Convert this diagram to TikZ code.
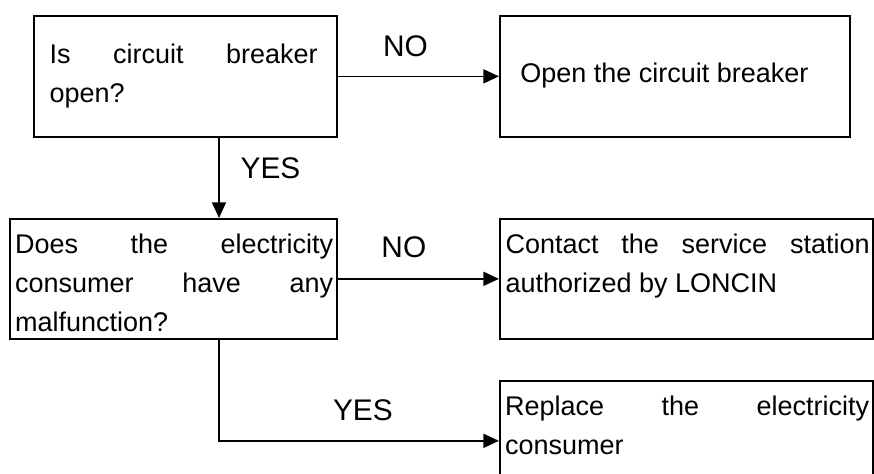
\documentclass[tikz,border=0pt]{standalone}
\usepackage{fontspec}
\setmainfont{Liberation Sans}
\usetikzlibrary{positioning, arrows.meta}
\hyphenpenalty=10000
\hbadness=10000

\begin{document}
\begin{tikzpicture}[
    >={Triangle[length=5.6pt,width=5pt]},
    box/.style={draw, rectangle, line width=0.6pt, anchor=north west, inner sep=0pt},
    boxtext/.style={anchor=base west, inner sep=0pt, align=justify, font=\fontsize{9.6}{14}\selectfont},
    answer/.style={inner sep=0pt, font=\fontsize{10.6}{12}\selectfont},
    link/.style={->, line width=0.6pt}
]

% Page frame
\useasboundingbox (0,0) rectangle (10.925,-5.9125);
\clip (0,0) rectangle (10.925,-5.9125);

% -------------------------
% Questions (left column)
% -------------------------

% 1. Circuit breaker
\node[box, minimum width=3.7875cm, minimum height=1.5125cm] (breaker) at (0.4125,-0.1875) {};
\node[boxtext, text width=3.35cm] (breakertext) at ([shift={(0.2,-0.6)}]breaker.north west)
    {Is circuit breaker\linebreak open?};

% 2. Electricity consumer
\node[box, minimum width=4.0875cm, minimum height=1.5cm] (consumer) at (0.1125,-2.725) {};
\node[boxtext, text width=3.975cm] (consumertext) at ([shift={(0.07,-0.4375)}]consumer.north west)
    {Does the electricity\linebreak consumer have any\linebreak malfunction?};

% -------------------------
% Actions (right column)
% -------------------------

% 3. Open breaker
\node[box, minimum width=4.375cm, minimum height=1.5125cm] (openbrk) at (6.2375,-0.1875) {};
\node[boxtext, text width=4cm] (openbrktext) at ([shift={(0.26,-0.8375)}]openbrk.north west)
    {Open the circuit breaker};

% 4. Service station
\node[box, minimum width=4.6625cm, minimum height=1.5cm] (service) at (6.2375,-2.725) {};
\node[boxtext, text width=4.55cm] (servicetext) at ([shift={(0.075,-0.4375)}]service.north west)
    {Contact the service station\linebreak authorized by LONCIN};

% 5. Replace consumer (runs off the page)
\node[box, minimum width=4.6625cm, minimum height=1.5cm] (replace) at (6.2375,-4.75) {};
\node[boxtext, text width=4.55cm] (replacetext) at ([shift={(0.07,-0.4375)}]replace.north west)
    {Replace the electricity\linebreak consumer};

% -------------------------
% Connections
% -------------------------
\coordinate (trunk) at (2.7375,0);

% breaker -> openbrk
\draw[link] (breaker.east) -- (openbrk.west)
    node[answer, pos=0.42, above=0.24cm] (no1) {NO};

% breaker -> consumer
\draw[link] (breaker.south -| trunk) -- (consumer.north -| trunk)
    node[answer, pos=0.38, right=0.26cm] (yes1) {YES};

% consumer -> service
\draw[link] (consumer.east) -- (service.west)
    node[answer, pos=0.41, above=0.25cm] (no2) {NO};

% consumer -> replace
\draw[link] (consumer.south -| trunk) |- (replace.west)
    node[answer, pos=0.757, above=0.24cm] (yes2) {YES};

\end{tikzpicture}
\end{document}
